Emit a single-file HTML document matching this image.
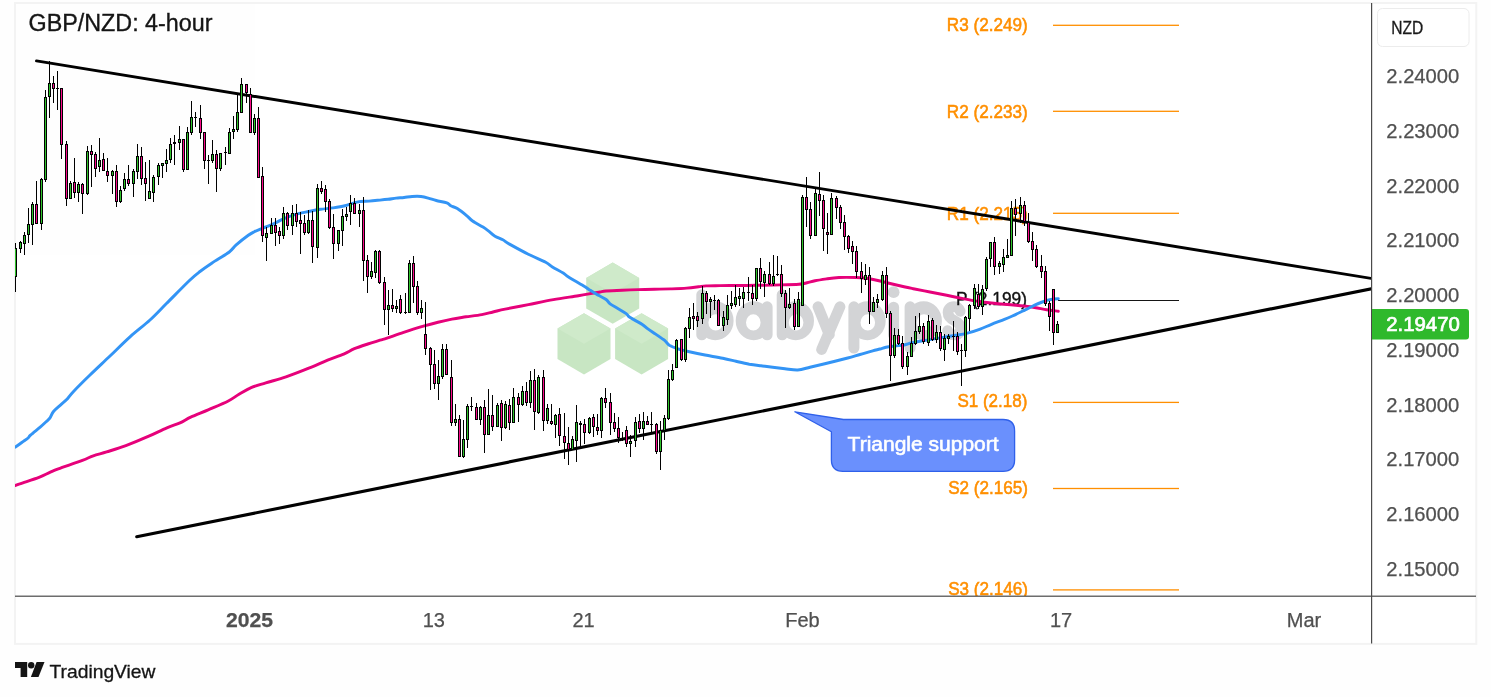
<!DOCTYPE html>
<html><head><meta charset="utf-8"><title>GBP/NZD 4-hour</title>
<style>
html,body{margin:0;padding:0;background:#fefefe;}
body{width:1491px;height:697px;overflow:hidden;font-family:"Liberation Sans",sans-serif;}
svg{display:block;}
text{font-family:"Liberation Sans",sans-serif;}
</style></head><body>
<svg width="1491" height="697" viewBox="0 0 1491 697" style="will-change:transform;opacity:0.9999">
<defs>
<clipPath id="pane"><rect x="15" y="3" width="1356" height="593"/></clipPath>
</defs>
<rect x="0" y="0" width="1491" height="697" fill="#fefefe"/>

<rect x="15" y="3" width="1461.3" height="640.9" fill="#ffffff" stroke="#f3f3f3" stroke-width="2"/>
<g clip-path="url(#pane)">
<polygon points="612.7,262.6 639.2,277.9 639.2,308.5 612.7,323.8 586.2,308.5 586.2,277.9" fill="#c8e6c3"/>
<polygon points="612.7,262.6 639.2,277.9 612.7,293.2 586.2,277.9" fill="#cfeaca"/>
<polygon points="584.0,313.2 610.5,328.5 610.5,359.1 584.0,374.4 557.5,359.1 557.5,328.5" fill="#c8e6c3"/>
<polygon points="584.0,313.2 610.5,328.5 584.0,343.8 557.5,328.5" fill="#cfeaca"/>
<polygon points="641.6,313.2 668.1,328.5 668.1,359.1 641.6,374.4 615.1,359.1 615.1,328.5" fill="#c8e6c3"/>
<polygon points="641.6,313.2 668.1,328.5 641.6,343.8 615.1,328.5" fill="#cfeaca"/>
<rect x="696.30" y="289.30" width="11.0" height="51.00" rx="5.5" ry="5.5" fill="#d3d4d6"/>
<path d="M697.00,320.80 A18.30,19.50 0 1 0 733.60,320.80 A18.30,19.50 0 1 0 697.00,320.80 Z M708.40,322.40 A7.30,8.10 0 1 0 723.00,322.40 A7.30,8.10 0 1 0 708.40,322.40 Z" fill="#d3d4d6" fill-rule="evenodd"/>
<rect x="761.60" y="301.30" width="11.0" height="39.00" rx="5.5" ry="5.5" fill="#d3d4d6"/>
<path d="M735.70,320.80 A18.00,19.50 0 1 0 771.70,320.80 A18.00,19.50 0 1 0 735.70,320.80 Z M746.00,322.40 A7.30,8.10 0 1 0 760.60,322.40 A7.30,8.10 0 1 0 746.00,322.40 Z" fill="#d3d4d6" fill-rule="evenodd"/>
<rect x="776.70" y="289.30" width="11.0" height="51.00" rx="5.5" ry="5.5" fill="#d3d4d6"/>
<path d="M777.40,320.80 A18.30,19.50 0 1 0 814.00,320.80 A18.30,19.50 0 1 0 777.40,320.80 Z M788.80,322.40 A7.30,8.10 0 1 0 803.40,322.40 A7.30,8.10 0 1 0 788.80,322.40 Z" fill="#d3d4d6" fill-rule="evenodd"/>
<polyline points="818.0,306.7 829.3,334.6" fill="none" stroke="#d3d4d6" stroke-width="10.8" stroke-linecap="round" stroke-linejoin="round"/>
<polyline points="840.0,306.7 821.6,349.6" fill="none" stroke="#d3d4d6" stroke-width="10.8" stroke-linecap="round" stroke-linejoin="round"/>
<rect x="848.40" y="301.30" width="11.0" height="52.30" rx="5.5" ry="5.5" fill="#d3d4d6"/>
<path d="M849.10,320.80 A18.30,19.50 0 1 0 885.70,320.80 A18.30,19.50 0 1 0 849.10,320.80 Z M860.50,322.40 A7.30,8.10 0 1 0 875.10,322.40 A7.30,8.10 0 1 0 860.50,322.40 Z" fill="#d3d4d6" fill-rule="evenodd"/>
<rect x="888.10" y="301.70" width="11.0" height="38.60" rx="5.5" ry="5.5" fill="#d3d4d6"/>
<circle cx="893.6" cy="292.2" r="5.9" fill="#d3d4d6"/>
<rect x="904.60" y="301.30" width="11.0" height="52.30" rx="5.5" ry="5.5" fill="#d3d4d6"/>
<path d="M905.30,320.80 A18.30,19.50 0 1 0 941.90,320.80 A18.30,19.50 0 1 0 905.30,320.80 Z M916.70,322.40 A7.30,8.10 0 1 0 931.30,322.40 A7.30,8.10 0 1 0 916.70,322.40 Z" fill="#d3d4d6" fill-rule="evenodd"/>
<path d="M960.3,311.4 C958.8,307.9 956.4,306.6 954.2,306.6 C950.4,306.6 948.0,309.2 948.0,312.6 C948.0,317 950.8,319 954.4,320.6 C957.9,322.2 960.7,324 960.7,328.6 C960.7,332.6 957.9,335.0 954.2,335.0 C950.9,335.0 948.6,333.6 947.6,330.6" fill="none" stroke="#d3d4d6" stroke-width="10.6" stroke-linecap="round"/>
<rect x="1053" y="24.65" width="126" height="1.3" fill="#ff8f00"/>
<text x="946.8" y="30.9" font-size="18" textLength="80.9" lengthAdjust="spacingAndGlyphs" fill="#ff8f00" stroke="#ff8f00" stroke-width="0.55">R3 (2.249)</text>
<rect x="1053" y="110.65" width="126" height="1.3" fill="#ff8f00"/>
<text x="946.8" y="117.9" font-size="18" textLength="80.9" lengthAdjust="spacingAndGlyphs" fill="#ff8f00" stroke="#ff8f00" stroke-width="0.55">R2 (2.233)</text>
<rect x="1053" y="212.65" width="126" height="1.3" fill="#ff8f00"/>
<text x="946.8" y="219.8" font-size="18" textLength="80.9" lengthAdjust="spacingAndGlyphs" fill="#ff8f00" stroke="#ff8f00" stroke-width="0.55">R1 (2.215)</text>
<rect x="1053" y="401.75" width="126" height="1.3" fill="#ff8f00"/>
<text x="957.4" y="406.9" font-size="18" textLength="70.0" lengthAdjust="spacingAndGlyphs" fill="#ff8f00" stroke="#ff8f00" stroke-width="0.55">S1 (2.18)</text>
<rect x="1053" y="487.85" width="126" height="1.3" fill="#ff8f00"/>
<text x="948.2" y="493.9" font-size="18" textLength="79.8" lengthAdjust="spacingAndGlyphs" fill="#ff8f00" stroke="#ff8f00" stroke-width="0.55">S2 (2.165)</text>
<rect x="1053" y="589.25" width="126" height="1.3" fill="#ff8f00"/>
<text x="948.2" y="595.4" font-size="18" textLength="79.8" lengthAdjust="spacingAndGlyphs" fill="#ff8f00" stroke="#ff8f00" stroke-width="0.55">S3 (2.146)</text>
<rect x="1058" y="300" width="121" height="1" fill="#151515" shape-rendering="crispEdges"/>
<text x="956.1" y="304.5" font-size="18" textLength="70.8" lengthAdjust="spacingAndGlyphs" fill="#111" stroke="#111" stroke-width="0.4">P (2.199)</text>
<path d="M15.4,485.4 C16.1,485.1 15.8,485.2 19.7,483.9 C23.6,482.5 34.0,479.2 39.0,477.3 C44.0,475.4 46.6,473.8 49.8,472.4 C53.0,471.0 52.9,470.8 58.3,468.8 C63.7,466.8 76.6,462.6 82.4,460.4 C88.2,458.2 89.3,457.2 93.3,455.8 C97.3,454.4 101.2,453.6 106.6,451.9 C112.0,450.2 118.9,448.2 125.9,445.6 C132.9,443.0 142.0,439.2 148.8,436.2 C155.6,433.2 161.7,430.0 166.9,427.8 C172.1,425.6 176.0,424.7 180.0,422.9 C184.0,421.1 186.0,419.3 190.7,417.1 C195.4,414.9 201.9,412.5 208.2,409.8 C214.5,407.1 223.2,403.6 228.3,401.0 C233.4,398.4 235.2,396.5 239.0,394.3 C242.8,392.1 246.6,389.5 251.1,387.6 C255.6,385.7 260.0,384.7 265.8,382.9 C271.6,381.1 278.8,379.3 286.0,376.9 C293.2,374.4 301.9,371.0 308.8,368.2 C315.7,365.4 321.8,362.5 327.6,360.1 C333.4,357.8 339.2,356.0 343.7,354.1 C348.2,352.2 350.4,350.4 354.4,348.7 C358.4,347.0 363.5,345.4 367.8,344.0 C372.1,342.6 376.8,341.2 380.0,340.2 C383.2,339.2 383.1,339.5 387.0,338.2 C390.9,336.9 397.2,334.5 403.6,332.4 C410.0,330.3 419.5,327.4 425.2,325.7 C430.9,324.0 433.6,323.3 438.0,322.2 C442.4,321.1 447.2,320.0 451.9,319.1 C456.6,318.2 461.0,317.6 466.0,316.8 C471.0,316.1 477.3,315.4 481.8,314.6 C486.3,313.8 489.1,312.9 493.0,312.0 C496.9,311.1 499.2,310.3 505.1,309.1 C511.0,307.9 520.4,306.2 528.4,304.6 C536.4,303.0 545.1,301.1 553.4,299.6 C561.7,298.1 571.6,296.9 578.4,295.8 C585.2,294.7 590.4,293.6 594.0,293.0 C597.6,292.4 598.0,292.3 600.0,292.0 C602.0,291.7 602.4,291.3 606.1,291.0 C609.8,290.7 616.8,290.4 622.2,290.2 C627.6,290.0 632.9,289.8 638.3,289.6 C643.7,289.4 649.0,289.3 654.4,289.2 C659.8,289.1 665.1,289.1 670.5,288.9 C675.9,288.7 681.9,288.5 686.6,288.1 C691.3,287.8 695.4,287.2 698.6,286.8 C701.8,286.4 702.4,286.1 706.0,285.9 C709.6,285.7 714.3,285.7 720.0,285.6 C725.7,285.5 734.0,285.6 740.0,285.5 C746.0,285.4 749.3,285.4 756.0,285.3 C762.7,285.2 772.8,285.1 780.0,284.9 C787.2,284.7 794.5,284.5 799.0,284.2 C803.5,283.9 804.3,283.4 807.0,282.8 C809.7,282.2 811.7,281.5 815.0,280.8 C818.3,280.1 823.0,279.4 827.0,278.8 C831.0,278.2 834.2,277.7 839.0,277.5 C843.8,277.3 851.8,277.4 856.0,277.5 C860.2,277.6 861.3,277.7 864.0,278.0 C866.7,278.3 869.3,278.7 872.0,279.2 C874.7,279.7 877.2,280.3 880.0,281.0 C882.8,281.7 885.0,282.4 889.0,283.3 C893.0,284.2 900.0,285.8 904.0,286.7 C908.0,287.6 909.0,287.8 913.3,288.7 C917.6,289.6 924.4,290.9 930.0,292.0 C935.6,293.1 941.2,294.2 946.7,295.3 C952.2,296.4 957.5,297.5 963.0,298.6 C968.5,299.7 974.5,300.9 980.0,301.7 C985.5,302.5 990.5,302.9 996.0,303.5 C1001.5,304.1 1007.6,304.5 1013.3,305.0 C1019.0,305.5 1024.4,305.9 1030.0,306.7 C1035.6,307.5 1042.0,308.9 1046.7,309.7 C1051.4,310.5 1056.4,311.0 1058.3,311.3" fill="none" stroke="#e6007a" stroke-width="2.95" stroke-linejoin="round" stroke-linecap="round"/>
<path d="M15.4,447.1 C16.5,446.3 20.0,443.8 22.1,442.3 C24.2,440.8 26.7,439.2 28.1,438.0 C29.5,436.8 28.5,437.0 30.5,435.2 C32.5,433.4 37.6,429.4 40.2,427.2 C42.8,424.9 44.6,423.2 46.2,421.7 C47.8,420.2 48.6,419.8 49.8,418.1 C51.0,416.4 51.7,413.7 53.5,411.5 C55.3,409.3 58.5,406.8 60.7,404.8 C62.9,402.8 64.6,401.8 66.7,399.6 C68.8,397.4 69.4,395.8 73.3,391.7 C77.2,387.6 83.9,380.9 90.0,375.0 C96.1,369.1 103.3,362.4 110.0,356.0 C116.7,349.6 123.6,342.6 130.3,336.6 C137.0,330.6 143.9,325.6 150.0,320.0 C156.1,314.4 160.0,310.0 166.7,303.3 C173.4,296.6 184.4,285.3 190.0,280.0 C195.6,274.7 196.3,274.3 200.0,271.5 C203.7,268.7 207.3,266.2 212.1,263.0 C216.9,259.8 225.0,255.2 229.0,252.2 C233.0,249.2 233.0,247.7 236.2,244.9 C239.4,242.1 245.3,237.5 248.3,235.3 C251.3,233.1 252.1,232.8 254.3,231.7 C256.5,230.6 258.6,229.8 261.6,228.6 C264.6,227.4 268.6,226.1 272.4,224.4 C276.2,222.7 280.5,220.1 284.5,218.4 C288.5,216.7 292.6,215.2 296.6,214.1 C300.6,212.9 304.7,212.3 308.7,211.5 C312.7,210.7 316.7,209.9 320.7,209.3 C324.7,208.7 328.8,208.5 332.8,207.9 C336.8,207.3 340.9,206.7 344.9,205.7 C348.9,204.7 352.9,202.9 356.9,202.1 C360.9,201.3 365.1,201.4 369.0,201.1 C372.9,200.8 376.8,200.4 380.0,200.1 C383.2,199.8 385.3,199.6 388.0,199.3 C390.7,199.0 393.4,198.4 396.1,198.1 C398.8,197.8 401.4,197.8 404.1,197.5 C406.8,197.2 409.4,196.7 412.2,196.5 C415.0,196.3 418.3,196.2 421.0,196.5 C423.7,196.8 425.8,197.4 428.3,198.1 C430.9,198.8 433.2,199.7 436.3,200.5 C439.4,201.3 444.4,202.0 446.8,202.9 C449.2,203.8 449.1,204.9 450.8,205.8 C452.6,206.8 454.6,206.9 457.3,208.6 C460.0,210.3 464.3,213.7 466.9,215.8 C469.4,217.9 469.9,219.1 472.6,221.0 C475.3,222.9 480.3,225.4 483.0,227.1 C485.7,228.8 486.7,229.6 488.7,231.1 C490.7,232.6 492.6,234.8 495.0,236.2 C497.4,237.6 500.4,238.5 502.8,239.8 C505.2,241.1 505.2,241.7 509.5,244.1 C513.8,246.5 522.3,251.2 528.3,254.2 C534.3,257.2 541.7,260.2 545.7,262.3 C549.7,264.4 549.5,265.1 552.4,266.9 C555.3,268.7 560.5,271.3 563.2,273.0 C565.9,274.7 565.1,274.9 568.5,277.0 C571.9,279.1 579.7,283.5 583.3,285.7 C586.9,287.9 587.5,288.6 590.0,290.2 C592.5,291.8 595.3,293.6 598.0,295.1 C600.7,296.7 604.1,298.0 606.1,299.5 C608.1,301.0 608.1,302.4 610.1,303.9 C612.1,305.4 615.5,307.1 618.2,308.7 C620.9,310.3 624.2,312.1 626.2,313.6 C628.2,315.1 627.5,315.8 630.2,317.6 C632.9,319.4 639.3,322.5 642.3,324.4 C645.2,326.3 645.6,327.2 647.9,328.9 C650.2,330.6 653.6,332.7 656.0,334.4 C658.4,336.1 660.8,337.8 662.4,338.9 C664.0,340.0 664.5,340.2 665.6,341.3 C666.8,342.4 667.2,343.9 669.3,345.2 C671.4,346.4 674.7,347.7 678.0,348.8 C681.3,349.9 684.8,350.7 689.3,351.7 C693.8,352.7 699.4,353.9 705.0,355.0 C710.6,356.1 717.5,357.2 722.7,358.3 C727.9,359.4 731.6,360.3 736.0,361.3 C740.4,362.3 745.1,363.4 749.3,364.2 C753.5,364.9 757.1,365.3 761.0,365.8 C764.9,366.3 768.7,366.7 772.7,367.2 C776.7,367.7 780.8,368.2 785.0,368.7 C789.2,369.2 793.5,370.2 797.7,370.0 C801.9,369.8 805.8,368.2 810.0,367.2 C814.2,366.2 818.5,365.2 822.7,364.2 C826.9,363.2 830.8,362.2 835.0,361.2 C839.2,360.2 843.5,359.1 847.7,358.0 C851.9,356.9 855.8,355.7 860.0,354.5 C864.2,353.3 869.4,351.7 872.7,350.8 C876.0,349.9 877.8,349.6 880.0,349.0 C882.2,348.4 883.5,347.8 886.0,347.3 C888.5,346.8 892.0,346.4 895.0,346.0 C898.0,345.6 901.2,345.6 904.3,345.0 C907.3,344.4 909.0,343.4 913.3,342.5 C917.6,341.6 924.4,340.6 930.0,339.6 C935.6,338.6 942.4,337.4 946.7,336.7 C951.0,336.0 952.5,335.9 956.0,335.3 C959.5,334.7 963.4,334.1 967.4,333.1 C971.4,332.1 976.2,330.6 980.2,329.1 C984.2,327.6 987.5,325.9 991.5,324.3 C995.5,322.7 1000.9,320.8 1004.4,319.4 C1007.9,318.0 1009.3,317.4 1012.4,316.0 C1015.5,314.6 1020.0,312.4 1022.9,311.0 C1025.8,309.6 1027.3,308.9 1029.5,307.8 C1031.7,306.7 1033.7,305.6 1035.8,304.6 C1037.9,303.6 1040.1,302.8 1042.3,302.0 C1044.5,301.2 1046.8,300.4 1048.7,299.9 C1050.7,299.4 1052.4,299.2 1054.0,299.0 C1055.6,298.8 1057.6,298.8 1058.3,298.8" fill="none" stroke="#3394f5" stroke-width="2.95" stroke-linejoin="round" stroke-linecap="round"/>
<line x1="36.5" y1="60.9" x2="1373" y2="278.7" stroke="#000" stroke-width="2.95" stroke-linecap="round"/>
<line x1="136.7" y1="536.8" x2="1373" y2="288.4" stroke="#000" stroke-width="3.1" stroke-linecap="round"/>
<g shape-rendering="crispEdges">
<rect x="15" y="243" width="1" height="49" fill="#000"/>
<rect x="14" y="248" width="3" height="29" fill="#000"/>
<rect x="15" y="249" width="1" height="27" fill="#2fc42b"/>
<rect x="20" y="241" width="1" height="12" fill="#000"/>
<rect x="19" y="242" width="3" height="7" fill="#000"/>
<rect x="20" y="243" width="1" height="5" fill="#2fc42b"/>
<rect x="24" y="232" width="1" height="23" fill="#000"/>
<rect x="23" y="235" width="3" height="9" fill="#000"/>
<rect x="24" y="236" width="1" height="7" fill="#2fc42b"/>
<rect x="28" y="208" width="1" height="35" fill="#000"/>
<rect x="27" y="224" width="3" height="11" fill="#000"/>
<rect x="28" y="225" width="1" height="9" fill="#2fc42b"/>
<rect x="32" y="202" width="1" height="43" fill="#000"/>
<rect x="31" y="204" width="3" height="21" fill="#000"/>
<rect x="32" y="205" width="1" height="19" fill="#2fc42b"/>
<rect x="36" y="181" width="1" height="43" fill="#000"/>
<rect x="35" y="204" width="3" height="20" fill="#000"/>
<rect x="36" y="205" width="1" height="18" fill="#fa0a8a"/>
<rect x="41" y="178" width="1" height="52" fill="#000"/>
<rect x="40" y="179" width="3" height="45" fill="#000"/>
<rect x="41" y="180" width="1" height="43" fill="#2fc42b"/>
<rect x="45" y="90" width="1" height="92" fill="#000"/>
<rect x="44" y="97" width="3" height="83" fill="#000"/>
<rect x="45" y="98" width="1" height="81" fill="#2fc42b"/>
<rect x="49" y="61" width="1" height="57" fill="#000"/>
<rect x="48" y="83" width="3" height="14" fill="#000"/>
<rect x="49" y="84" width="1" height="12" fill="#2fc42b"/>
<rect x="53" y="76" width="1" height="27" fill="#000"/>
<rect x="52" y="83" width="3" height="6" fill="#000"/>
<rect x="53" y="84" width="1" height="4" fill="#fa0a8a"/>
<rect x="57" y="71" width="1" height="39" fill="#000"/>
<rect x="56" y="88" width="3" height="1" fill="#000"/>
<rect x="61" y="88" width="1" height="71" fill="#000"/>
<rect x="60" y="88" width="3" height="57" fill="#000"/>
<rect x="61" y="89" width="1" height="55" fill="#fa0a8a"/>
<rect x="66" y="141" width="1" height="65" fill="#000"/>
<rect x="65" y="144" width="3" height="55" fill="#000"/>
<rect x="66" y="145" width="1" height="53" fill="#fa0a8a"/>
<rect x="70" y="181" width="1" height="18" fill="#000"/>
<rect x="69" y="183" width="3" height="16" fill="#000"/>
<rect x="70" y="184" width="1" height="14" fill="#2fc42b"/>
<rect x="74" y="158" width="1" height="40" fill="#000"/>
<rect x="73" y="182" width="3" height="11" fill="#000"/>
<rect x="74" y="183" width="1" height="9" fill="#fa0a8a"/>
<rect x="78" y="182" width="1" height="20" fill="#000"/>
<rect x="77" y="184" width="3" height="9" fill="#000"/>
<rect x="78" y="185" width="1" height="7" fill="#2fc42b"/>
<rect x="82" y="183" width="1" height="31" fill="#000"/>
<rect x="81" y="184" width="3" height="10" fill="#000"/>
<rect x="82" y="185" width="1" height="8" fill="#fa0a8a"/>
<rect x="87" y="146" width="1" height="49" fill="#000"/>
<rect x="86" y="151" width="3" height="43" fill="#000"/>
<rect x="87" y="152" width="1" height="41" fill="#2fc42b"/>
<rect x="91" y="145" width="1" height="42" fill="#000"/>
<rect x="90" y="151" width="3" height="4" fill="#000"/>
<rect x="91" y="152" width="1" height="2" fill="#fa0a8a"/>
<rect x="95" y="152" width="1" height="25" fill="#000"/>
<rect x="94" y="154" width="3" height="15" fill="#000"/>
<rect x="95" y="155" width="1" height="13" fill="#fa0a8a"/>
<rect x="99" y="138" width="1" height="34" fill="#000"/>
<rect x="98" y="160" width="3" height="7" fill="#000"/>
<rect x="99" y="161" width="1" height="5" fill="#2fc42b"/>
<rect x="103" y="153" width="1" height="18" fill="#000"/>
<rect x="102" y="159" width="3" height="12" fill="#000"/>
<rect x="103" y="160" width="1" height="10" fill="#fa0a8a"/>
<rect x="107" y="158" width="1" height="24" fill="#000"/>
<rect x="106" y="171" width="3" height="5" fill="#000"/>
<rect x="107" y="172" width="1" height="3" fill="#fa0a8a"/>
<rect x="112" y="170" width="1" height="24" fill="#000"/>
<rect x="111" y="171" width="3" height="5" fill="#000"/>
<rect x="112" y="172" width="1" height="3" fill="#2fc42b"/>
<rect x="116" y="165" width="1" height="42" fill="#000"/>
<rect x="115" y="171" width="3" height="31" fill="#000"/>
<rect x="116" y="172" width="1" height="29" fill="#fa0a8a"/>
<rect x="120" y="186" width="1" height="17" fill="#000"/>
<rect x="119" y="190" width="3" height="12" fill="#000"/>
<rect x="120" y="191" width="1" height="10" fill="#2fc42b"/>
<rect x="124" y="173" width="1" height="18" fill="#000"/>
<rect x="123" y="179" width="3" height="10" fill="#000"/>
<rect x="124" y="180" width="1" height="8" fill="#2fc42b"/>
<rect x="128" y="165" width="1" height="21" fill="#000"/>
<rect x="127" y="179" width="3" height="5" fill="#000"/>
<rect x="128" y="180" width="1" height="3" fill="#fa0a8a"/>
<rect x="133" y="169" width="1" height="28" fill="#000"/>
<rect x="132" y="171" width="3" height="13" fill="#000"/>
<rect x="133" y="172" width="1" height="11" fill="#2fc42b"/>
<rect x="137" y="144" width="1" height="35" fill="#000"/>
<rect x="136" y="156" width="3" height="16" fill="#000"/>
<rect x="137" y="157" width="1" height="14" fill="#2fc42b"/>
<rect x="141" y="147" width="1" height="38" fill="#000"/>
<rect x="140" y="156" width="3" height="23" fill="#000"/>
<rect x="141" y="157" width="1" height="21" fill="#fa0a8a"/>
<rect x="145" y="162" width="1" height="39" fill="#000"/>
<rect x="144" y="178" width="3" height="6" fill="#000"/>
<rect x="145" y="179" width="1" height="4" fill="#fa0a8a"/>
<rect x="149" y="160" width="1" height="39" fill="#000"/>
<rect x="148" y="191" width="3" height="8" fill="#000"/>
<rect x="149" y="192" width="1" height="6" fill="#2fc42b"/>
<rect x="153" y="175" width="1" height="27" fill="#000"/>
<rect x="152" y="177" width="3" height="16" fill="#000"/>
<rect x="153" y="178" width="1" height="14" fill="#2fc42b"/>
<rect x="158" y="163" width="1" height="22" fill="#000"/>
<rect x="157" y="165" width="3" height="12" fill="#000"/>
<rect x="158" y="166" width="1" height="10" fill="#2fc42b"/>
<rect x="162" y="163" width="1" height="15" fill="#000"/>
<rect x="161" y="163" width="3" height="3" fill="#000"/>
<rect x="162" y="164" width="1" height="1" fill="#2fc42b"/>
<rect x="166" y="149" width="1" height="23" fill="#000"/>
<rect x="165" y="160" width="3" height="4" fill="#000"/>
<rect x="166" y="161" width="1" height="2" fill="#2fc42b"/>
<rect x="170" y="138" width="1" height="25" fill="#000"/>
<rect x="169" y="144" width="3" height="16" fill="#000"/>
<rect x="170" y="145" width="1" height="14" fill="#2fc42b"/>
<rect x="174" y="135" width="1" height="30" fill="#000"/>
<rect x="173" y="142" width="3" height="2" fill="#000"/>
<rect x="179" y="126" width="1" height="24" fill="#000"/>
<rect x="178" y="139" width="3" height="4" fill="#000"/>
<rect x="179" y="140" width="1" height="2" fill="#2fc42b"/>
<rect x="183" y="139" width="1" height="33" fill="#000"/>
<rect x="182" y="139" width="3" height="31" fill="#000"/>
<rect x="183" y="140" width="1" height="29" fill="#fa0a8a"/>
<rect x="187" y="127" width="1" height="43" fill="#000"/>
<rect x="186" y="132" width="3" height="38" fill="#000"/>
<rect x="187" y="133" width="1" height="36" fill="#2fc42b"/>
<rect x="191" y="101" width="1" height="34" fill="#000"/>
<rect x="190" y="117" width="3" height="16" fill="#000"/>
<rect x="191" y="118" width="1" height="14" fill="#2fc42b"/>
<rect x="195" y="112" width="1" height="15" fill="#000"/>
<rect x="194" y="117" width="3" height="1" fill="#000"/>
<rect x="200" y="105" width="1" height="34" fill="#000"/>
<rect x="199" y="118" width="3" height="15" fill="#000"/>
<rect x="200" y="119" width="1" height="13" fill="#fa0a8a"/>
<rect x="204" y="132" width="1" height="37" fill="#000"/>
<rect x="203" y="132" width="3" height="29" fill="#000"/>
<rect x="204" y="133" width="1" height="27" fill="#fa0a8a"/>
<rect x="208" y="155" width="1" height="29" fill="#000"/>
<rect x="207" y="160" width="3" height="1" fill="#000"/>
<rect x="212" y="140" width="1" height="23" fill="#000"/>
<rect x="211" y="154" width="3" height="7" fill="#000"/>
<rect x="212" y="155" width="1" height="5" fill="#2fc42b"/>
<rect x="216" y="150" width="1" height="42" fill="#000"/>
<rect x="215" y="154" width="3" height="15" fill="#000"/>
<rect x="216" y="155" width="1" height="13" fill="#fa0a8a"/>
<rect x="220" y="153" width="1" height="18" fill="#000"/>
<rect x="219" y="153" width="3" height="16" fill="#000"/>
<rect x="220" y="154" width="1" height="14" fill="#2fc42b"/>
<rect x="225" y="147" width="1" height="18" fill="#000"/>
<rect x="224" y="152" width="3" height="1" fill="#000"/>
<rect x="229" y="128" width="1" height="26" fill="#000"/>
<rect x="228" y="132" width="3" height="22" fill="#000"/>
<rect x="229" y="133" width="1" height="20" fill="#2fc42b"/>
<rect x="233" y="116" width="1" height="23" fill="#000"/>
<rect x="232" y="129" width="3" height="3" fill="#000"/>
<rect x="233" y="130" width="1" height="1" fill="#2fc42b"/>
<rect x="237" y="95" width="1" height="37" fill="#000"/>
<rect x="236" y="112" width="3" height="18" fill="#000"/>
<rect x="237" y="113" width="1" height="16" fill="#2fc42b"/>
<rect x="241" y="78" width="1" height="35" fill="#000"/>
<rect x="240" y="84" width="3" height="29" fill="#000"/>
<rect x="241" y="85" width="1" height="27" fill="#2fc42b"/>
<rect x="246" y="84" width="1" height="19" fill="#000"/>
<rect x="245" y="84" width="3" height="9" fill="#000"/>
<rect x="246" y="85" width="1" height="7" fill="#fa0a8a"/>
<rect x="250" y="88" width="1" height="45" fill="#000"/>
<rect x="249" y="94" width="3" height="39" fill="#000"/>
<rect x="250" y="95" width="1" height="37" fill="#fa0a8a"/>
<rect x="254" y="114" width="1" height="21" fill="#000"/>
<rect x="253" y="118" width="3" height="15" fill="#000"/>
<rect x="254" y="119" width="1" height="13" fill="#2fc42b"/>
<rect x="258" y="107" width="1" height="71" fill="#000"/>
<rect x="257" y="118" width="3" height="60" fill="#000"/>
<rect x="258" y="119" width="1" height="58" fill="#fa0a8a"/>
<rect x="262" y="167" width="1" height="75" fill="#000"/>
<rect x="261" y="176" width="3" height="60" fill="#000"/>
<rect x="262" y="177" width="1" height="58" fill="#fa0a8a"/>
<rect x="266" y="227" width="1" height="34" fill="#000"/>
<rect x="265" y="233" width="3" height="5" fill="#000"/>
<rect x="266" y="234" width="1" height="3" fill="#2fc42b"/>
<rect x="271" y="218" width="1" height="16" fill="#000"/>
<rect x="270" y="225" width="3" height="9" fill="#000"/>
<rect x="271" y="226" width="1" height="7" fill="#2fc42b"/>
<rect x="275" y="218" width="1" height="28" fill="#000"/>
<rect x="274" y="225" width="3" height="8" fill="#000"/>
<rect x="275" y="226" width="1" height="6" fill="#fa0a8a"/>
<rect x="279" y="227" width="1" height="17" fill="#000"/>
<rect x="278" y="231" width="3" height="5" fill="#000"/>
<rect x="279" y="232" width="1" height="3" fill="#fa0a8a"/>
<rect x="283" y="207" width="1" height="32" fill="#000"/>
<rect x="282" y="213" width="3" height="23" fill="#000"/>
<rect x="283" y="214" width="1" height="21" fill="#2fc42b"/>
<rect x="287" y="212" width="1" height="18" fill="#000"/>
<rect x="286" y="213" width="3" height="13" fill="#000"/>
<rect x="287" y="214" width="1" height="11" fill="#fa0a8a"/>
<rect x="292" y="205" width="1" height="30" fill="#000"/>
<rect x="291" y="213" width="3" height="13" fill="#000"/>
<rect x="292" y="214" width="1" height="11" fill="#2fc42b"/>
<rect x="296" y="204" width="1" height="23" fill="#000"/>
<rect x="295" y="213" width="3" height="9" fill="#000"/>
<rect x="296" y="214" width="1" height="7" fill="#fa0a8a"/>
<rect x="300" y="212" width="1" height="42" fill="#000"/>
<rect x="299" y="220" width="3" height="4" fill="#000"/>
<rect x="300" y="221" width="1" height="2" fill="#fa0a8a"/>
<rect x="304" y="215" width="1" height="20" fill="#000"/>
<rect x="303" y="223" width="3" height="10" fill="#000"/>
<rect x="304" y="224" width="1" height="8" fill="#fa0a8a"/>
<rect x="308" y="210" width="1" height="24" fill="#000"/>
<rect x="307" y="220" width="3" height="13" fill="#000"/>
<rect x="308" y="221" width="1" height="11" fill="#2fc42b"/>
<rect x="312" y="211" width="1" height="52" fill="#000"/>
<rect x="311" y="220" width="3" height="27" fill="#000"/>
<rect x="312" y="221" width="1" height="25" fill="#fa0a8a"/>
<rect x="317" y="184" width="1" height="74" fill="#000"/>
<rect x="316" y="188" width="3" height="60" fill="#000"/>
<rect x="317" y="189" width="1" height="58" fill="#2fc42b"/>
<rect x="321" y="181" width="1" height="13" fill="#000"/>
<rect x="320" y="188" width="3" height="4" fill="#000"/>
<rect x="321" y="189" width="1" height="2" fill="#fa0a8a"/>
<rect x="325" y="185" width="1" height="27" fill="#000"/>
<rect x="324" y="189" width="3" height="13" fill="#000"/>
<rect x="325" y="190" width="1" height="11" fill="#fa0a8a"/>
<rect x="329" y="199" width="1" height="30" fill="#000"/>
<rect x="328" y="201" width="3" height="27" fill="#000"/>
<rect x="329" y="202" width="1" height="25" fill="#fa0a8a"/>
<rect x="333" y="214" width="1" height="45" fill="#000"/>
<rect x="332" y="227" width="3" height="17" fill="#000"/>
<rect x="333" y="228" width="1" height="15" fill="#fa0a8a"/>
<rect x="338" y="230" width="1" height="21" fill="#000"/>
<rect x="337" y="230" width="3" height="14" fill="#000"/>
<rect x="338" y="231" width="1" height="12" fill="#2fc42b"/>
<rect x="342" y="209" width="1" height="37" fill="#000"/>
<rect x="341" y="216" width="3" height="15" fill="#000"/>
<rect x="342" y="217" width="1" height="13" fill="#2fc42b"/>
<rect x="346" y="207" width="1" height="14" fill="#000"/>
<rect x="345" y="214" width="3" height="3" fill="#000"/>
<rect x="346" y="215" width="1" height="1" fill="#2fc42b"/>
<rect x="350" y="195" width="1" height="30" fill="#000"/>
<rect x="349" y="203" width="3" height="9" fill="#000"/>
<rect x="350" y="204" width="1" height="7" fill="#2fc42b"/>
<rect x="354" y="198" width="1" height="16" fill="#000"/>
<rect x="353" y="203" width="3" height="11" fill="#000"/>
<rect x="354" y="204" width="1" height="9" fill="#fa0a8a"/>
<rect x="359" y="204" width="1" height="23" fill="#000"/>
<rect x="358" y="210" width="3" height="4" fill="#000"/>
<rect x="359" y="211" width="1" height="2" fill="#2fc42b"/>
<rect x="363" y="197" width="1" height="84" fill="#000"/>
<rect x="362" y="210" width="3" height="51" fill="#000"/>
<rect x="363" y="211" width="1" height="49" fill="#fa0a8a"/>
<rect x="367" y="255" width="1" height="38" fill="#000"/>
<rect x="366" y="260" width="3" height="17" fill="#000"/>
<rect x="367" y="261" width="1" height="15" fill="#fa0a8a"/>
<rect x="371" y="262" width="1" height="17" fill="#000"/>
<rect x="370" y="271" width="3" height="6" fill="#000"/>
<rect x="371" y="272" width="1" height="4" fill="#2fc42b"/>
<rect x="375" y="250" width="1" height="28" fill="#000"/>
<rect x="374" y="251" width="3" height="22" fill="#000"/>
<rect x="375" y="252" width="1" height="20" fill="#2fc42b"/>
<rect x="379" y="250" width="1" height="34" fill="#000"/>
<rect x="378" y="251" width="3" height="32" fill="#000"/>
<rect x="379" y="252" width="1" height="30" fill="#fa0a8a"/>
<rect x="384" y="277" width="1" height="48" fill="#000"/>
<rect x="383" y="282" width="3" height="28" fill="#000"/>
<rect x="384" y="283" width="1" height="26" fill="#fa0a8a"/>
<rect x="388" y="290" width="1" height="45" fill="#000"/>
<rect x="387" y="305" width="3" height="5" fill="#000"/>
<rect x="388" y="306" width="1" height="3" fill="#2fc42b"/>
<rect x="392" y="289" width="1" height="23" fill="#000"/>
<rect x="391" y="305" width="3" height="4" fill="#000"/>
<rect x="392" y="306" width="1" height="2" fill="#fa0a8a"/>
<rect x="396" y="300" width="1" height="13" fill="#000"/>
<rect x="395" y="306" width="3" height="3" fill="#000"/>
<rect x="396" y="307" width="1" height="1" fill="#2fc42b"/>
<rect x="400" y="295" width="1" height="19" fill="#000"/>
<rect x="399" y="299" width="3" height="14" fill="#000"/>
<rect x="400" y="300" width="1" height="12" fill="#fa0a8a"/>
<rect x="405" y="293" width="1" height="21" fill="#000"/>
<rect x="404" y="312" width="3" height="1" fill="#000"/>
<rect x="409" y="260" width="1" height="53" fill="#000"/>
<rect x="408" y="263" width="3" height="50" fill="#000"/>
<rect x="409" y="264" width="1" height="48" fill="#2fc42b"/>
<rect x="413" y="256" width="1" height="47" fill="#000"/>
<rect x="412" y="263" width="3" height="24" fill="#000"/>
<rect x="413" y="264" width="1" height="22" fill="#fa0a8a"/>
<rect x="417" y="281" width="1" height="34" fill="#000"/>
<rect x="416" y="286" width="3" height="27" fill="#000"/>
<rect x="417" y="287" width="1" height="25" fill="#fa0a8a"/>
<rect x="421" y="300" width="1" height="19" fill="#000"/>
<rect x="420" y="308" width="3" height="5" fill="#000"/>
<rect x="421" y="309" width="1" height="3" fill="#2fc42b"/>
<rect x="425" y="302" width="1" height="53" fill="#000"/>
<rect x="424" y="334" width="3" height="15" fill="#000"/>
<rect x="425" y="335" width="1" height="13" fill="#fa0a8a"/>
<rect x="430" y="347" width="1" height="43" fill="#000"/>
<rect x="429" y="348" width="3" height="17" fill="#000"/>
<rect x="430" y="349" width="1" height="15" fill="#fa0a8a"/>
<rect x="434" y="350" width="1" height="39" fill="#000"/>
<rect x="433" y="364" width="3" height="20" fill="#000"/>
<rect x="434" y="365" width="1" height="18" fill="#fa0a8a"/>
<rect x="438" y="360" width="1" height="40" fill="#000"/>
<rect x="437" y="376" width="3" height="8" fill="#000"/>
<rect x="438" y="377" width="1" height="6" fill="#2fc42b"/>
<rect x="442" y="344" width="1" height="35" fill="#000"/>
<rect x="441" y="349" width="3" height="28" fill="#000"/>
<rect x="442" y="350" width="1" height="26" fill="#2fc42b"/>
<rect x="446" y="344" width="1" height="31" fill="#000"/>
<rect x="445" y="349" width="3" height="26" fill="#000"/>
<rect x="446" y="350" width="1" height="24" fill="#fa0a8a"/>
<rect x="451" y="360" width="1" height="66" fill="#000"/>
<rect x="450" y="377" width="3" height="46" fill="#000"/>
<rect x="451" y="378" width="1" height="44" fill="#fa0a8a"/>
<rect x="455" y="404" width="1" height="22" fill="#000"/>
<rect x="454" y="419" width="3" height="4" fill="#000"/>
<rect x="455" y="420" width="1" height="2" fill="#2fc42b"/>
<rect x="459" y="415" width="1" height="42" fill="#000"/>
<rect x="458" y="419" width="3" height="38" fill="#000"/>
<rect x="459" y="420" width="1" height="36" fill="#fa0a8a"/>
<rect x="463" y="420" width="1" height="38" fill="#000"/>
<rect x="462" y="439" width="3" height="18" fill="#000"/>
<rect x="463" y="440" width="1" height="16" fill="#2fc42b"/>
<rect x="467" y="404" width="1" height="44" fill="#000"/>
<rect x="466" y="406" width="3" height="34" fill="#000"/>
<rect x="467" y="407" width="1" height="32" fill="#2fc42b"/>
<rect x="471" y="397" width="1" height="14" fill="#000"/>
<rect x="470" y="406" width="3" height="1" fill="#000"/>
<rect x="476" y="403" width="1" height="17" fill="#000"/>
<rect x="475" y="407" width="3" height="13" fill="#000"/>
<rect x="476" y="408" width="1" height="11" fill="#fa0a8a"/>
<rect x="480" y="406" width="1" height="19" fill="#000"/>
<rect x="479" y="407" width="3" height="13" fill="#000"/>
<rect x="480" y="408" width="1" height="11" fill="#2fc42b"/>
<rect x="484" y="400" width="1" height="53" fill="#000"/>
<rect x="483" y="407" width="3" height="28" fill="#000"/>
<rect x="484" y="408" width="1" height="26" fill="#fa0a8a"/>
<rect x="488" y="389" width="1" height="46" fill="#000"/>
<rect x="487" y="415" width="3" height="20" fill="#000"/>
<rect x="488" y="416" width="1" height="18" fill="#2fc42b"/>
<rect x="492" y="395" width="1" height="36" fill="#000"/>
<rect x="491" y="415" width="3" height="12" fill="#000"/>
<rect x="492" y="416" width="1" height="10" fill="#fa0a8a"/>
<rect x="497" y="403" width="1" height="24" fill="#000"/>
<rect x="496" y="405" width="3" height="22" fill="#000"/>
<rect x="497" y="406" width="1" height="20" fill="#2fc42b"/>
<rect x="501" y="400" width="1" height="41" fill="#000"/>
<rect x="500" y="403" width="3" height="25" fill="#000"/>
<rect x="501" y="404" width="1" height="23" fill="#fa0a8a"/>
<rect x="505" y="401" width="1" height="28" fill="#000"/>
<rect x="504" y="404" width="3" height="24" fill="#000"/>
<rect x="505" y="405" width="1" height="22" fill="#2fc42b"/>
<rect x="509" y="399" width="1" height="31" fill="#000"/>
<rect x="508" y="405" width="3" height="18" fill="#000"/>
<rect x="509" y="406" width="1" height="16" fill="#fa0a8a"/>
<rect x="513" y="388" width="1" height="35" fill="#000"/>
<rect x="512" y="397" width="3" height="26" fill="#000"/>
<rect x="513" y="398" width="1" height="24" fill="#2fc42b"/>
<rect x="518" y="393" width="1" height="29" fill="#000"/>
<rect x="517" y="397" width="3" height="8" fill="#000"/>
<rect x="518" y="398" width="1" height="6" fill="#fa0a8a"/>
<rect x="522" y="386" width="1" height="20" fill="#000"/>
<rect x="521" y="391" width="3" height="14" fill="#000"/>
<rect x="522" y="392" width="1" height="12" fill="#2fc42b"/>
<rect x="526" y="382" width="1" height="24" fill="#000"/>
<rect x="525" y="391" width="3" height="12" fill="#000"/>
<rect x="526" y="392" width="1" height="10" fill="#fa0a8a"/>
<rect x="530" y="371" width="1" height="37" fill="#000"/>
<rect x="529" y="380" width="3" height="23" fill="#000"/>
<rect x="530" y="381" width="1" height="21" fill="#2fc42b"/>
<rect x="534" y="369" width="1" height="61" fill="#000"/>
<rect x="533" y="380" width="3" height="32" fill="#000"/>
<rect x="534" y="381" width="1" height="30" fill="#fa0a8a"/>
<rect x="538" y="375" width="1" height="39" fill="#000"/>
<rect x="537" y="377" width="3" height="36" fill="#000"/>
<rect x="538" y="378" width="1" height="34" fill="#2fc42b"/>
<rect x="543" y="370" width="1" height="61" fill="#000"/>
<rect x="542" y="377" width="3" height="44" fill="#000"/>
<rect x="543" y="378" width="1" height="42" fill="#fa0a8a"/>
<rect x="547" y="404" width="1" height="20" fill="#000"/>
<rect x="546" y="408" width="3" height="13" fill="#000"/>
<rect x="547" y="409" width="1" height="11" fill="#2fc42b"/>
<rect x="551" y="404" width="1" height="21" fill="#000"/>
<rect x="550" y="421" width="3" height="3" fill="#000"/>
<rect x="551" y="422" width="1" height="1" fill="#fa0a8a"/>
<rect x="555" y="414" width="1" height="24" fill="#000"/>
<rect x="554" y="415" width="3" height="10" fill="#000"/>
<rect x="555" y="416" width="1" height="8" fill="#2fc42b"/>
<rect x="559" y="408" width="1" height="38" fill="#000"/>
<rect x="558" y="414" width="3" height="22" fill="#000"/>
<rect x="559" y="415" width="1" height="20" fill="#fa0a8a"/>
<rect x="564" y="413" width="1" height="46" fill="#000"/>
<rect x="563" y="436" width="3" height="7" fill="#000"/>
<rect x="564" y="437" width="1" height="5" fill="#fa0a8a"/>
<rect x="568" y="427" width="1" height="38" fill="#000"/>
<rect x="567" y="443" width="3" height="7" fill="#000"/>
<rect x="568" y="444" width="1" height="5" fill="#fa0a8a"/>
<rect x="572" y="436" width="1" height="14" fill="#000"/>
<rect x="571" y="439" width="3" height="11" fill="#000"/>
<rect x="572" y="440" width="1" height="9" fill="#2fc42b"/>
<rect x="576" y="405" width="1" height="57" fill="#000"/>
<rect x="575" y="422" width="3" height="19" fill="#000"/>
<rect x="576" y="423" width="1" height="17" fill="#2fc42b"/>
<rect x="580" y="421" width="1" height="26" fill="#000"/>
<rect x="579" y="423" width="3" height="2" fill="#000"/>
<rect x="584" y="419" width="1" height="25" fill="#000"/>
<rect x="583" y="424" width="3" height="9" fill="#000"/>
<rect x="584" y="425" width="1" height="7" fill="#fa0a8a"/>
<rect x="589" y="417" width="1" height="17" fill="#000"/>
<rect x="588" y="418" width="3" height="15" fill="#000"/>
<rect x="589" y="419" width="1" height="13" fill="#2fc42b"/>
<rect x="593" y="414" width="1" height="23" fill="#000"/>
<rect x="592" y="417" width="3" height="10" fill="#000"/>
<rect x="593" y="418" width="1" height="8" fill="#fa0a8a"/>
<rect x="597" y="414" width="1" height="21" fill="#000"/>
<rect x="596" y="427" width="3" height="4" fill="#000"/>
<rect x="597" y="428" width="1" height="2" fill="#fa0a8a"/>
<rect x="601" y="397" width="1" height="41" fill="#000"/>
<rect x="600" y="398" width="3" height="33" fill="#000"/>
<rect x="601" y="399" width="1" height="31" fill="#2fc42b"/>
<rect x="605" y="388" width="1" height="20" fill="#000"/>
<rect x="604" y="398" width="3" height="5" fill="#000"/>
<rect x="605" y="399" width="1" height="3" fill="#fa0a8a"/>
<rect x="610" y="393" width="1" height="42" fill="#000"/>
<rect x="609" y="402" width="3" height="21" fill="#000"/>
<rect x="610" y="403" width="1" height="19" fill="#fa0a8a"/>
<rect x="614" y="413" width="1" height="19" fill="#000"/>
<rect x="613" y="422" width="3" height="7" fill="#000"/>
<rect x="614" y="423" width="1" height="5" fill="#fa0a8a"/>
<rect x="618" y="417" width="1" height="26" fill="#000"/>
<rect x="617" y="428" width="3" height="10" fill="#000"/>
<rect x="618" y="429" width="1" height="8" fill="#fa0a8a"/>
<rect x="622" y="432" width="1" height="9" fill="#000"/>
<rect x="621" y="438" width="3" height="1" fill="#000"/>
<rect x="626" y="426" width="1" height="21" fill="#000"/>
<rect x="625" y="430" width="3" height="14" fill="#000"/>
<rect x="626" y="431" width="1" height="12" fill="#fa0a8a"/>
<rect x="630" y="435" width="1" height="22" fill="#000"/>
<rect x="629" y="441" width="3" height="3" fill="#000"/>
<rect x="630" y="442" width="1" height="1" fill="#2fc42b"/>
<rect x="635" y="417" width="1" height="30" fill="#000"/>
<rect x="634" y="422" width="3" height="19" fill="#000"/>
<rect x="635" y="423" width="1" height="17" fill="#2fc42b"/>
<rect x="639" y="414" width="1" height="19" fill="#000"/>
<rect x="638" y="421" width="3" height="8" fill="#000"/>
<rect x="639" y="422" width="1" height="6" fill="#fa0a8a"/>
<rect x="643" y="412" width="1" height="28" fill="#000"/>
<rect x="642" y="421" width="3" height="8" fill="#000"/>
<rect x="643" y="422" width="1" height="6" fill="#2fc42b"/>
<rect x="647" y="416" width="1" height="9" fill="#000"/>
<rect x="646" y="421" width="3" height="4" fill="#000"/>
<rect x="647" y="422" width="1" height="2" fill="#fa0a8a"/>
<rect x="651" y="412" width="1" height="20" fill="#000"/>
<rect x="650" y="424" width="3" height="1" fill="#000"/>
<rect x="656" y="423" width="1" height="31" fill="#000"/>
<rect x="655" y="424" width="3" height="28" fill="#000"/>
<rect x="656" y="425" width="1" height="26" fill="#fa0a8a"/>
<rect x="660" y="421" width="1" height="49" fill="#000"/>
<rect x="659" y="430" width="3" height="22" fill="#000"/>
<rect x="660" y="431" width="1" height="20" fill="#2fc42b"/>
<rect x="664" y="415" width="1" height="25" fill="#000"/>
<rect x="663" y="418" width="3" height="13" fill="#000"/>
<rect x="664" y="419" width="1" height="11" fill="#2fc42b"/>
<rect x="668" y="370" width="1" height="50" fill="#000"/>
<rect x="667" y="379" width="3" height="40" fill="#000"/>
<rect x="668" y="380" width="1" height="38" fill="#2fc42b"/>
<rect x="672" y="364" width="1" height="17" fill="#000"/>
<rect x="671" y="370" width="3" height="10" fill="#000"/>
<rect x="672" y="371" width="1" height="8" fill="#2fc42b"/>
<rect x="676" y="339" width="1" height="29" fill="#000"/>
<rect x="675" y="340" width="3" height="28" fill="#000"/>
<rect x="676" y="341" width="1" height="26" fill="#2fc42b"/>
<rect x="681" y="339" width="1" height="22" fill="#000"/>
<rect x="680" y="339" width="3" height="21" fill="#000"/>
<rect x="681" y="340" width="1" height="19" fill="#fa0a8a"/>
<rect x="685" y="327" width="1" height="35" fill="#000"/>
<rect x="684" y="328" width="3" height="32" fill="#000"/>
<rect x="685" y="329" width="1" height="30" fill="#2fc42b"/>
<rect x="689" y="308" width="1" height="30" fill="#000"/>
<rect x="688" y="317" width="3" height="12" fill="#000"/>
<rect x="689" y="318" width="1" height="10" fill="#2fc42b"/>
<rect x="693" y="303" width="1" height="27" fill="#000"/>
<rect x="692" y="316" width="3" height="3" fill="#000"/>
<rect x="693" y="317" width="1" height="1" fill="#fa0a8a"/>
<rect x="697" y="312" width="1" height="15" fill="#000"/>
<rect x="696" y="316" width="3" height="5" fill="#000"/>
<rect x="697" y="317" width="1" height="3" fill="#fa0a8a"/>
<rect x="702" y="286" width="1" height="38" fill="#000"/>
<rect x="701" y="293" width="3" height="26" fill="#000"/>
<rect x="702" y="294" width="1" height="24" fill="#2fc42b"/>
<rect x="706" y="291" width="1" height="23" fill="#000"/>
<rect x="705" y="293" width="3" height="9" fill="#000"/>
<rect x="706" y="294" width="1" height="7" fill="#fa0a8a"/>
<rect x="710" y="297" width="1" height="21" fill="#000"/>
<rect x="709" y="299" width="3" height="3" fill="#000"/>
<rect x="710" y="300" width="1" height="1" fill="#2fc42b"/>
<rect x="714" y="295" width="1" height="15" fill="#000"/>
<rect x="713" y="300" width="3" height="1" fill="#000"/>
<rect x="718" y="299" width="1" height="27" fill="#000"/>
<rect x="717" y="300" width="3" height="26" fill="#000"/>
<rect x="718" y="301" width="1" height="24" fill="#fa0a8a"/>
<rect x="723" y="311" width="1" height="20" fill="#000"/>
<rect x="722" y="317" width="3" height="9" fill="#000"/>
<rect x="723" y="318" width="1" height="7" fill="#2fc42b"/>
<rect x="727" y="295" width="1" height="30" fill="#000"/>
<rect x="726" y="305" width="3" height="15" fill="#000"/>
<rect x="727" y="306" width="1" height="13" fill="#2fc42b"/>
<rect x="731" y="291" width="1" height="18" fill="#000"/>
<rect x="730" y="303" width="3" height="3" fill="#000"/>
<rect x="731" y="304" width="1" height="1" fill="#2fc42b"/>
<rect x="735" y="285" width="1" height="22" fill="#000"/>
<rect x="734" y="297" width="3" height="8" fill="#000"/>
<rect x="735" y="298" width="1" height="6" fill="#2fc42b"/>
<rect x="739" y="288" width="1" height="18" fill="#000"/>
<rect x="738" y="296" width="3" height="3" fill="#000"/>
<rect x="739" y="297" width="1" height="1" fill="#2fc42b"/>
<rect x="743" y="287" width="1" height="21" fill="#000"/>
<rect x="742" y="292" width="3" height="7" fill="#000"/>
<rect x="743" y="293" width="1" height="5" fill="#2fc42b"/>
<rect x="748" y="277" width="1" height="24" fill="#000"/>
<rect x="747" y="292" width="3" height="1" fill="#000"/>
<rect x="752" y="285" width="1" height="20" fill="#000"/>
<rect x="751" y="293" width="3" height="6" fill="#000"/>
<rect x="752" y="294" width="1" height="4" fill="#fa0a8a"/>
<rect x="756" y="268" width="1" height="33" fill="#000"/>
<rect x="755" y="268" width="3" height="31" fill="#000"/>
<rect x="756" y="269" width="1" height="29" fill="#2fc42b"/>
<rect x="760" y="258" width="1" height="31" fill="#000"/>
<rect x="759" y="268" width="3" height="14" fill="#000"/>
<rect x="760" y="269" width="1" height="12" fill="#fa0a8a"/>
<rect x="764" y="271" width="1" height="26" fill="#000"/>
<rect x="763" y="274" width="3" height="9" fill="#000"/>
<rect x="764" y="275" width="1" height="7" fill="#2fc42b"/>
<rect x="769" y="262" width="1" height="23" fill="#000"/>
<rect x="768" y="274" width="3" height="10" fill="#000"/>
<rect x="769" y="275" width="1" height="8" fill="#fa0a8a"/>
<rect x="773" y="255" width="1" height="31" fill="#000"/>
<rect x="772" y="276" width="3" height="8" fill="#000"/>
<rect x="773" y="277" width="1" height="6" fill="#2fc42b"/>
<rect x="777" y="256" width="1" height="20" fill="#000"/>
<rect x="776" y="274" width="3" height="1" fill="#000"/>
<rect x="781" y="265" width="1" height="32" fill="#000"/>
<rect x="780" y="274" width="3" height="20" fill="#000"/>
<rect x="781" y="275" width="1" height="18" fill="#fa0a8a"/>
<rect x="785" y="290" width="1" height="38" fill="#000"/>
<rect x="784" y="293" width="3" height="15" fill="#000"/>
<rect x="785" y="294" width="1" height="13" fill="#fa0a8a"/>
<rect x="789" y="288" width="1" height="21" fill="#000"/>
<rect x="788" y="304" width="3" height="4" fill="#000"/>
<rect x="789" y="305" width="1" height="2" fill="#2fc42b"/>
<rect x="794" y="299" width="1" height="31" fill="#000"/>
<rect x="793" y="303" width="3" height="24" fill="#000"/>
<rect x="794" y="304" width="1" height="22" fill="#fa0a8a"/>
<rect x="798" y="292" width="1" height="35" fill="#000"/>
<rect x="797" y="299" width="3" height="28" fill="#000"/>
<rect x="798" y="300" width="1" height="26" fill="#2fc42b"/>
<rect x="802" y="195" width="1" height="111" fill="#000"/>
<rect x="801" y="197" width="3" height="109" fill="#000"/>
<rect x="802" y="198" width="1" height="107" fill="#2fc42b"/>
<rect x="806" y="177" width="1" height="50" fill="#000"/>
<rect x="805" y="197" width="3" height="13" fill="#000"/>
<rect x="806" y="198" width="1" height="11" fill="#fa0a8a"/>
<rect x="810" y="202" width="1" height="37" fill="#000"/>
<rect x="809" y="209" width="3" height="27" fill="#000"/>
<rect x="810" y="210" width="1" height="25" fill="#fa0a8a"/>
<rect x="815" y="188" width="1" height="48" fill="#000"/>
<rect x="814" y="193" width="3" height="43" fill="#000"/>
<rect x="815" y="194" width="1" height="41" fill="#2fc42b"/>
<rect x="819" y="172" width="1" height="44" fill="#000"/>
<rect x="818" y="194" width="3" height="7" fill="#000"/>
<rect x="819" y="195" width="1" height="5" fill="#fa0a8a"/>
<rect x="823" y="195" width="1" height="56" fill="#000"/>
<rect x="822" y="200" width="3" height="29" fill="#000"/>
<rect x="823" y="201" width="1" height="27" fill="#fa0a8a"/>
<rect x="827" y="213" width="1" height="41" fill="#000"/>
<rect x="826" y="232" width="3" height="3" fill="#000"/>
<rect x="827" y="233" width="1" height="1" fill="#fa0a8a"/>
<rect x="831" y="193" width="1" height="42" fill="#000"/>
<rect x="830" y="198" width="3" height="37" fill="#000"/>
<rect x="831" y="199" width="1" height="35" fill="#2fc42b"/>
<rect x="836" y="196" width="1" height="23" fill="#000"/>
<rect x="835" y="198" width="3" height="10" fill="#000"/>
<rect x="836" y="199" width="1" height="8" fill="#fa0a8a"/>
<rect x="840" y="205" width="1" height="24" fill="#000"/>
<rect x="839" y="207" width="3" height="16" fill="#000"/>
<rect x="840" y="208" width="1" height="14" fill="#fa0a8a"/>
<rect x="844" y="215" width="1" height="35" fill="#000"/>
<rect x="843" y="222" width="3" height="15" fill="#000"/>
<rect x="844" y="223" width="1" height="13" fill="#fa0a8a"/>
<rect x="848" y="235" width="1" height="18" fill="#000"/>
<rect x="847" y="236" width="3" height="13" fill="#000"/>
<rect x="848" y="237" width="1" height="11" fill="#fa0a8a"/>
<rect x="852" y="241" width="1" height="23" fill="#000"/>
<rect x="851" y="246" width="3" height="6" fill="#000"/>
<rect x="852" y="247" width="1" height="4" fill="#fa0a8a"/>
<rect x="856" y="246" width="1" height="32" fill="#000"/>
<rect x="855" y="251" width="3" height="21" fill="#000"/>
<rect x="856" y="252" width="1" height="19" fill="#fa0a8a"/>
<rect x="861" y="262" width="1" height="31" fill="#000"/>
<rect x="860" y="271" width="3" height="8" fill="#000"/>
<rect x="861" y="272" width="1" height="6" fill="#fa0a8a"/>
<rect x="865" y="264" width="1" height="21" fill="#000"/>
<rect x="864" y="275" width="3" height="5" fill="#000"/>
<rect x="865" y="276" width="1" height="3" fill="#2fc42b"/>
<rect x="869" y="267" width="1" height="57" fill="#000"/>
<rect x="868" y="275" width="3" height="37" fill="#000"/>
<rect x="869" y="276" width="1" height="35" fill="#fa0a8a"/>
<rect x="873" y="297" width="1" height="15" fill="#000"/>
<rect x="872" y="302" width="3" height="10" fill="#000"/>
<rect x="873" y="303" width="1" height="8" fill="#2fc42b"/>
<rect x="877" y="294" width="1" height="14" fill="#000"/>
<rect x="876" y="299" width="3" height="4" fill="#000"/>
<rect x="877" y="300" width="1" height="2" fill="#2fc42b"/>
<rect x="882" y="271" width="1" height="30" fill="#000"/>
<rect x="881" y="275" width="3" height="25" fill="#000"/>
<rect x="882" y="276" width="1" height="23" fill="#2fc42b"/>
<rect x="886" y="267" width="1" height="51" fill="#000"/>
<rect x="885" y="275" width="3" height="39" fill="#000"/>
<rect x="886" y="276" width="1" height="37" fill="#fa0a8a"/>
<rect x="890" y="311" width="1" height="70" fill="#000"/>
<rect x="889" y="313" width="3" height="43" fill="#000"/>
<rect x="890" y="314" width="1" height="41" fill="#fa0a8a"/>
<rect x="894" y="328" width="1" height="30" fill="#000"/>
<rect x="893" y="335" width="3" height="21" fill="#000"/>
<rect x="894" y="336" width="1" height="19" fill="#2fc42b"/>
<rect x="898" y="329" width="1" height="16" fill="#000"/>
<rect x="897" y="335" width="3" height="9" fill="#000"/>
<rect x="898" y="336" width="1" height="7" fill="#fa0a8a"/>
<rect x="902" y="336" width="1" height="33" fill="#000"/>
<rect x="901" y="343" width="3" height="24" fill="#000"/>
<rect x="902" y="344" width="1" height="22" fill="#fa0a8a"/>
<rect x="907" y="352" width="1" height="23" fill="#000"/>
<rect x="906" y="356" width="3" height="11" fill="#000"/>
<rect x="907" y="357" width="1" height="9" fill="#2fc42b"/>
<rect x="911" y="337" width="1" height="20" fill="#000"/>
<rect x="910" y="343" width="3" height="14" fill="#000"/>
<rect x="911" y="344" width="1" height="12" fill="#2fc42b"/>
<rect x="915" y="316" width="1" height="29" fill="#000"/>
<rect x="914" y="331" width="3" height="13" fill="#000"/>
<rect x="915" y="332" width="1" height="11" fill="#2fc42b"/>
<rect x="919" y="313" width="1" height="21" fill="#000"/>
<rect x="918" y="326" width="3" height="6" fill="#000"/>
<rect x="919" y="327" width="1" height="4" fill="#2fc42b"/>
<rect x="923" y="323" width="1" height="21" fill="#000"/>
<rect x="922" y="326" width="3" height="16" fill="#000"/>
<rect x="923" y="327" width="1" height="14" fill="#fa0a8a"/>
<rect x="928" y="315" width="1" height="31" fill="#000"/>
<rect x="927" y="321" width="3" height="22" fill="#000"/>
<rect x="928" y="322" width="1" height="20" fill="#2fc42b"/>
<rect x="932" y="318" width="1" height="23" fill="#000"/>
<rect x="931" y="320" width="3" height="20" fill="#000"/>
<rect x="932" y="321" width="1" height="18" fill="#fa0a8a"/>
<rect x="936" y="325" width="1" height="18" fill="#000"/>
<rect x="935" y="332" width="3" height="8" fill="#000"/>
<rect x="936" y="333" width="1" height="6" fill="#2fc42b"/>
<rect x="940" y="326" width="1" height="25" fill="#000"/>
<rect x="939" y="332" width="3" height="17" fill="#000"/>
<rect x="940" y="333" width="1" height="15" fill="#fa0a8a"/>
<rect x="944" y="334" width="1" height="27" fill="#000"/>
<rect x="943" y="338" width="3" height="12" fill="#000"/>
<rect x="944" y="339" width="1" height="10" fill="#2fc42b"/>
<rect x="948" y="334" width="1" height="10" fill="#000"/>
<rect x="947" y="336" width="3" height="3" fill="#000"/>
<rect x="948" y="337" width="1" height="1" fill="#2fc42b"/>
<rect x="953" y="321" width="1" height="30" fill="#000"/>
<rect x="952" y="336" width="3" height="1" fill="#000"/>
<rect x="957" y="332" width="1" height="23" fill="#000"/>
<rect x="956" y="336" width="3" height="16" fill="#000"/>
<rect x="957" y="337" width="1" height="14" fill="#fa0a8a"/>
<rect x="961" y="344" width="1" height="42" fill="#000"/>
<rect x="960" y="350" width="3" height="1" fill="#000"/>
<rect x="965" y="316" width="1" height="41" fill="#000"/>
<rect x="964" y="317" width="3" height="34" fill="#000"/>
<rect x="965" y="318" width="1" height="32" fill="#2fc42b"/>
<rect x="969" y="304" width="1" height="27" fill="#000"/>
<rect x="968" y="305" width="3" height="14" fill="#000"/>
<rect x="969" y="306" width="1" height="12" fill="#2fc42b"/>
<rect x="974" y="284" width="1" height="25" fill="#000"/>
<rect x="973" y="288" width="3" height="18" fill="#000"/>
<rect x="974" y="289" width="1" height="16" fill="#2fc42b"/>
<rect x="978" y="284" width="1" height="25" fill="#000"/>
<rect x="977" y="294" width="3" height="13" fill="#000"/>
<rect x="978" y="295" width="1" height="11" fill="#fa0a8a"/>
<rect x="982" y="285" width="1" height="30" fill="#000"/>
<rect x="981" y="289" width="3" height="18" fill="#000"/>
<rect x="982" y="290" width="1" height="16" fill="#2fc42b"/>
<rect x="986" y="257" width="1" height="34" fill="#000"/>
<rect x="985" y="259" width="3" height="30" fill="#000"/>
<rect x="986" y="260" width="1" height="28" fill="#2fc42b"/>
<rect x="990" y="242" width="1" height="25" fill="#000"/>
<rect x="989" y="242" width="3" height="17" fill="#000"/>
<rect x="990" y="243" width="1" height="15" fill="#2fc42b"/>
<rect x="994" y="237" width="1" height="38" fill="#000"/>
<rect x="993" y="242" width="3" height="25" fill="#000"/>
<rect x="994" y="243" width="1" height="23" fill="#fa0a8a"/>
<rect x="999" y="261" width="1" height="13" fill="#000"/>
<rect x="998" y="263" width="3" height="4" fill="#000"/>
<rect x="999" y="264" width="1" height="2" fill="#2fc42b"/>
<rect x="1003" y="249" width="1" height="23" fill="#000"/>
<rect x="1002" y="257" width="3" height="8" fill="#000"/>
<rect x="1003" y="258" width="1" height="6" fill="#2fc42b"/>
<rect x="1007" y="239" width="1" height="19" fill="#000"/>
<rect x="1006" y="255" width="3" height="3" fill="#000"/>
<rect x="1007" y="256" width="1" height="1" fill="#2fc42b"/>
<rect x="1011" y="201" width="1" height="55" fill="#000"/>
<rect x="1010" y="208" width="3" height="48" fill="#000"/>
<rect x="1011" y="209" width="1" height="46" fill="#2fc42b"/>
<rect x="1015" y="199" width="1" height="37" fill="#000"/>
<rect x="1014" y="208" width="3" height="7" fill="#000"/>
<rect x="1015" y="209" width="1" height="5" fill="#fa0a8a"/>
<rect x="1020" y="197" width="1" height="26" fill="#000"/>
<rect x="1019" y="205" width="3" height="9" fill="#000"/>
<rect x="1020" y="206" width="1" height="7" fill="#2fc42b"/>
<rect x="1024" y="201" width="1" height="25" fill="#000"/>
<rect x="1023" y="205" width="3" height="17" fill="#000"/>
<rect x="1024" y="206" width="1" height="15" fill="#fa0a8a"/>
<rect x="1028" y="213" width="1" height="30" fill="#000"/>
<rect x="1027" y="222" width="3" height="20" fill="#000"/>
<rect x="1028" y="223" width="1" height="18" fill="#fa0a8a"/>
<rect x="1032" y="232" width="1" height="29" fill="#000"/>
<rect x="1031" y="241" width="3" height="9" fill="#000"/>
<rect x="1032" y="242" width="1" height="7" fill="#fa0a8a"/>
<rect x="1036" y="245" width="1" height="23" fill="#000"/>
<rect x="1035" y="249" width="3" height="18" fill="#000"/>
<rect x="1036" y="250" width="1" height="16" fill="#fa0a8a"/>
<rect x="1041" y="255" width="1" height="23" fill="#000"/>
<rect x="1040" y="266" width="3" height="6" fill="#000"/>
<rect x="1041" y="267" width="1" height="4" fill="#fa0a8a"/>
<rect x="1045" y="266" width="1" height="40" fill="#000"/>
<rect x="1044" y="271" width="3" height="33" fill="#000"/>
<rect x="1045" y="272" width="1" height="31" fill="#fa0a8a"/>
<rect x="1049" y="301" width="1" height="30" fill="#000"/>
<rect x="1048" y="303" width="3" height="14" fill="#000"/>
<rect x="1049" y="304" width="1" height="12" fill="#fa0a8a"/>
<rect x="1053" y="289" width="1" height="56" fill="#000"/>
<rect x="1052" y="289" width="3" height="44" fill="#000"/>
<rect x="1053" y="290" width="1" height="42" fill="#fa0a8a"/>
<rect x="1057" y="321" width="1" height="12" fill="#000"/>
<rect x="1056" y="324" width="3" height="9" fill="#000"/>
<rect x="1057" y="325" width="1" height="7" fill="#2fc42b"/>
</g>
<path d="M794.8,411.8 L843.5,419.5 L1003.1,419.5 Q1014.6,419.5 1014.6,431.0 L1014.6,459.8 Q1014.6,471.3 1003.1,471.3 L842.9,471.3 Q831.4,471.3 831.4,459.8 L831.4,431.8 Z" fill="#6a90fd" stroke="#2f60ea" stroke-width="1.3" stroke-linejoin="round"/>
<text x="847.6" y="451.3" font-size="20" textLength="151" lengthAdjust="spacingAndGlyphs" fill="#fff" stroke="#fff" stroke-width="0.6">Triangle support</text>
</g>
<rect x="1371" y="3" width="1.2" height="640.5" fill="#4a4a4a"/>
<rect x="15" y="595.6" width="1461" height="1.2" fill="#4a4a4a"/>
<text x="1386.3" y="83.2" font-size="20" fill="#505050" stroke="#505050" stroke-width="0.25" textLength="73" lengthAdjust="spacingAndGlyphs">2.24000</text>
<text x="1386.3" y="137.7" font-size="20" fill="#505050" stroke="#505050" stroke-width="0.25" textLength="73" lengthAdjust="spacingAndGlyphs">2.23000</text>
<text x="1386.3" y="192.5" font-size="20" fill="#505050" stroke="#505050" stroke-width="0.25" textLength="73" lengthAdjust="spacingAndGlyphs">2.22000</text>
<text x="1386.3" y="247.2" font-size="20" fill="#505050" stroke="#505050" stroke-width="0.25" textLength="73" lengthAdjust="spacingAndGlyphs">2.21000</text>
<text x="1386.3" y="302.0" font-size="20" fill="#505050" stroke="#505050" stroke-width="0.25" textLength="73" lengthAdjust="spacingAndGlyphs">2.20000</text>
<text x="1386.3" y="356.8" font-size="20" fill="#505050" stroke="#505050" stroke-width="0.25" textLength="73" lengthAdjust="spacingAndGlyphs">2.19000</text>
<text x="1386.3" y="411.6" font-size="20" fill="#505050" stroke="#505050" stroke-width="0.25" textLength="73" lengthAdjust="spacingAndGlyphs">2.18000</text>
<text x="1386.3" y="466.4" font-size="20" fill="#505050" stroke="#505050" stroke-width="0.25" textLength="73" lengthAdjust="spacingAndGlyphs">2.17000</text>
<text x="1386.3" y="521.2" font-size="20" fill="#505050" stroke="#505050" stroke-width="0.25" textLength="73" lengthAdjust="spacingAndGlyphs">2.16000</text>
<text x="1386.3" y="575.9" font-size="20" fill="#505050" stroke="#505050" stroke-width="0.25" textLength="73" lengthAdjust="spacingAndGlyphs">2.15000</text>
<path d="M1372,309 H1466 Q1469,309 1469,312 V336.5 Q1469,339.5 1466,339.5 H1372 Z" fill="#2fb92c"/>
<text x="1386.3" y="331.4" font-size="20" fill="#fff" stroke="#fff" stroke-width="0.7" textLength="73.5" lengthAdjust="spacingAndGlyphs">2.19470</text>
<rect x="1377.5" y="8.5" width="91.5" height="38" rx="5" ry="5" fill="#fff" stroke="#ececec" stroke-width="1"/>
<text x="1391.3" y="34" font-size="17.5" fill="#1a1a1a" stroke="#1a1a1a" stroke-width="0.3" textLength="32" lengthAdjust="spacingAndGlyphs">NZD</text>
<text x="249.5" y="627" font-size="20" text-anchor="middle" fill="#505050" stroke="#505050" stroke-width="0.25" font-weight="bold" textLength="47" lengthAdjust="spacingAndGlyphs">2025</text>
<text x="433.8" y="627" font-size="20" text-anchor="middle" fill="#505050" stroke="#505050" stroke-width="0.25">13</text>
<text x="583.5" y="627" font-size="20" text-anchor="middle" fill="#505050" stroke="#505050" stroke-width="0.25">21</text>
<text x="802.5" y="627" font-size="20" text-anchor="middle" fill="#505050" stroke="#505050" stroke-width="0.25">Feb</text>
<text x="1061" y="627" font-size="20" text-anchor="middle" fill="#505050" stroke="#505050" stroke-width="0.25">17</text>
<text x="1304" y="627" font-size="20" text-anchor="middle" fill="#505050" stroke="#505050" stroke-width="0.25">Mar</text>
<text x="28.5" y="30.8" font-size="23.5" fill="#151515" stroke="#151515" stroke-width="0.35" textLength="184" lengthAdjust="spacingAndGlyphs">GBP/NZD: 4-hour</text>
<g fill="#141414">
<path d="M15,662 H27.2 V677 H20.6 V668 H15 Z"/>
<circle cx="31.2" cy="665.2" r="3.2"/>
<path d="M36.6,662 H44.5 L38.5,677 H30.9 Z"/>
</g>
<text x="49.5" y="677.5" font-size="18.5" fill="#141414" stroke="#141414" stroke-width="0.3" textLength="106" lengthAdjust="spacingAndGlyphs">TradingView</text>
</svg></body></html>
